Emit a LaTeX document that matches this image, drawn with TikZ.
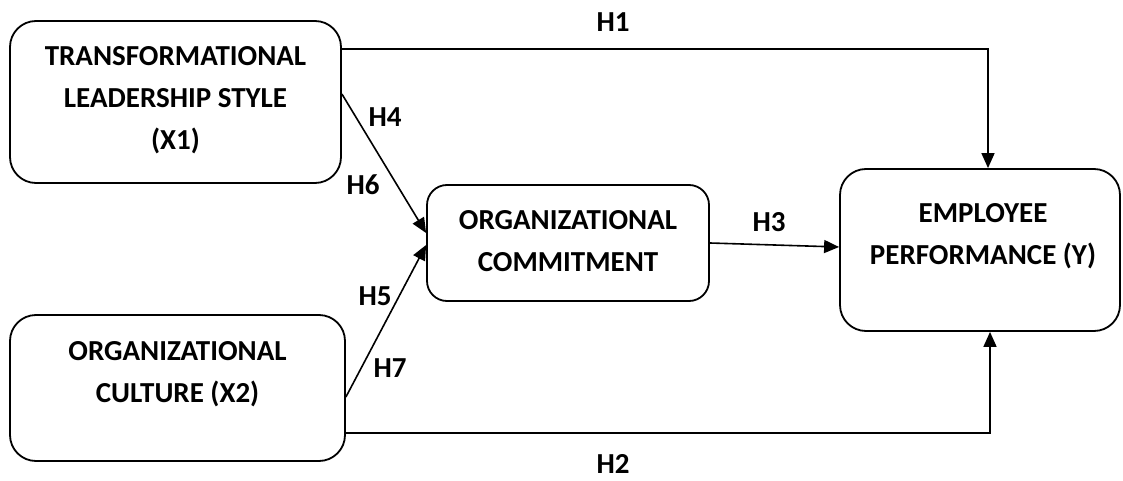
\documentclass[tikz,border=0pt]{standalone}
\usepackage{fontspec}
\setmainfont{Carlito}
\usetikzlibrary{arrows.meta}
\tikzset{
  box/.style={draw, line width=1.8pt, rounded corners=26pt, inner sep=0pt},
  txt/.style={font=\fontsize{29}{42}\selectfont\bfseries, align=center, inner sep=0pt},
  hyp/.style={font=\fontsize{29}{30}\selectfont\bfseries, inner sep=0pt},
  arr/.style={line width=1.6pt, -{Triangle[length=15pt,width=13pt]}},
  ln/.style={line width=1.8pt}
}
\begin{document}
\begin{tikzpicture}[x=1pt,y=1pt]
\useasboundingbox (0,0) rectangle (1123,-481);
% boxes
\node[box, minimum width=331pt, minimum height=162pt] (X1) at (175.5,-102) {};
\node[txt] (X1t) at (175.5,-100) {TRANSFORMATIONAL\\LEADERSHIP STYLE\\(X1)};
\node[box, minimum width=335pt, minimum height=146pt] (X2) at (177.5,-388) {};
\node[txt] (X2t) at (177.5,-374) {ORGANIZATIONAL\\CULTURE (X2)};
\node[box, rounded corners=20pt, minimum width=282pt, minimum height=116pt] (Org) at (568,-243) {};
\node[txt] (Orgt) at (568,-241) {ORGANIZATIONAL\\COMMITMENT};
\node[box, minimum width=280pt, minimum height=162pt] (Y) at (980,-250) {};
\node[txt] (Yt) at (983,-236) {EMPLOYEE\\PERFORMANCE (Y)};
% connectors
\draw[arr] (X1.east |- {(0,-49)}) -| ([xshift=8pt]Y.north);
\draw[arr] (X2.east |- {(0,-433)}) -| ([xshift=10pt]Y.south);
\draw[arr] (X1.east |- {(0,-94)}) -- ([yshift=10pt]Org.west);
\draw[arr] (X2.east |- {(0,-397)}) -- ([yshift=-2pt]Org.west);
\draw[arr] (Org.east) -- (Y.west |- {(0,-247)});
% labels
\node[hyp] (h1) at (613,-22) {H1};
\node[hyp] (h2) at (613,-464) {H2};
\node[hyp] (h3) at (769,-222) {H3};
\node[hyp] (h4) at (385,-117) {H4};
\node[hyp] (h6) at (363,-185) {H6};
\node[hyp] (h5) at (375,-296) {H5};
\node[hyp] (h7) at (390,-368) {H7};
\end{tikzpicture}
\end{document}
